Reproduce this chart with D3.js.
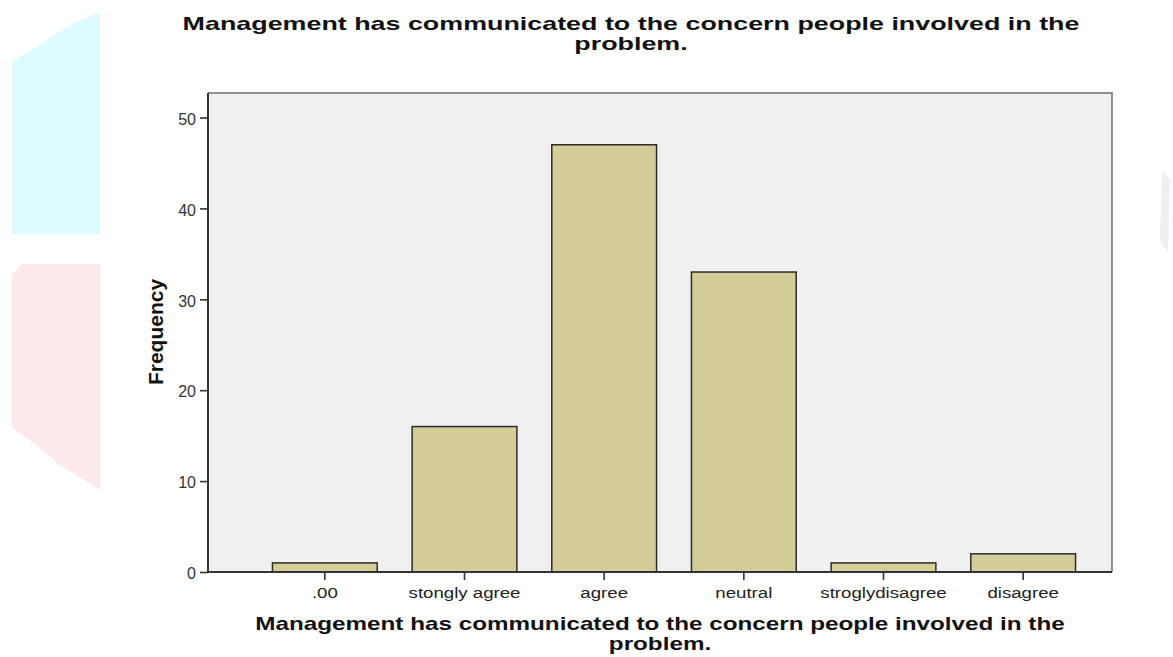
<!DOCTYPE html>
<html><head><meta charset="utf-8">
<script src="https://cdn.jsdelivr.net/npm/d3@7"></script>
<style>body{margin:0;background:#fff;}svg{display:block;}</style>
</head><body>
<svg id="c" width="1173" height="657"></svg>
<script>
const categories = [".00", "stongly agree", "agree", "neutral", "stroglydisagree", "disagree"];
const frequencies = [1, 16, 47, 33, 1, 2];
const yTicks = [0, 10, 20, 30, 40, 50];
const titleLines = ["Management has communicated to the concern people involved in the", "problem."];
const yLabel = "Frequency";

const FONT = "Liberation Sans, Arial, Helvetica, sans-serif";
const svg = d3.select("#c");
const plot = {left: 208, top: 93, right: 1112, bottom: 572};

// faint watermark decoration
svg.append("path").attr("d", "M12,62 L40,45 L70,25 L100,12 L100,234 L12,234 Z").attr("fill", "#ddfbfd");
svg.append("path").attr("d", "M12,275 L22,264 L100,264 L100,490 L60,465 L30,440 L12,428 Z").attr("fill", "#fde9e9");
svg.append("path").attr("d", "M1162,170 L1170,180 L1168,252 L1160,240 Z").attr("fill", "#efefef");

const x = d3.scaleBand().domain(categories).range([255, 1093]).paddingInner(0.25).paddingOuter(0.125);
const y = d3.scaleLinear().domain([0, 50]).range([plot.bottom, 117.5]);

svg.append("rect").attr("x", plot.left).attr("y", plot.top)
  .attr("width", plot.right - plot.left).attr("height", plot.bottom - plot.top)
  .attr("fill", "#f0f0f0");
svg.append("path").attr("d", `M${plot.left},${plot.top}H${plot.right}V${plot.bottom}`)
  .attr("fill", "none").attr("stroke", "#6e6e6e").attr("stroke-width", 1.5);

svg.append("g").selectAll("rect").data(categories).join("rect")
  .attr("x", d => x(d)).attr("width", x.bandwidth())
  .attr("y", (d, i) => y(frequencies[i]))
  .attr("height", (d, i) => y(0) - y(frequencies[i]))
  .attr("fill", "#d3ce97").attr("stroke", "#2b2b2b").attr("stroke-width", 1.5);

const yAxis = svg.append("g").attr("transform", `translate(${plot.left},0)`)
  .call(d3.axisLeft(y).tickValues(yTicks).tickSize(8).tickPadding(4));
yAxis.select(".domain").attr("d", `M0,${plot.top}V${plot.bottom}`).attr("stroke", "#333").attr("stroke-width", 2);
yAxis.selectAll(".tick line").attr("stroke", "#333").attr("stroke-width", 1.6);
yAxis.selectAll("text").attr("font-family", FONT).attr("font-size", 16).attr("fill", "#333").attr("dy", "0.42em");

const xAxis = svg.append("g").attr("transform", `translate(0,${plot.bottom})`)
  .call(d3.axisBottom(x).tickSize(8));
xAxis.select(".domain").attr("d", `M${plot.left},0H${plot.right}`).attr("stroke", "#333").attr("stroke-width", 2);
xAxis.selectAll(".tick line").attr("stroke", "#333").attr("stroke-width", 1.6);
const xt = xAxis.selectAll("text").attr("font-family", FONT).attr("font-size", 15).attr("fill", "#222")
  .attr("y", 0).attr("dy", 0);
const refNode = xt.filter(d => d === "stongly agree").node();
const xsx = refNode ? 112 / refNode.getComputedTextLength() : 1.2;
xt.attr("transform", `translate(0,26) scale(${xsx},1)`);

function title(cx, y0, target) {
  const g = svg.append("g");
  const t = g.append("text").attr("text-anchor", "middle")
    .attr("font-family", FONT).attr("font-weight", "bold")
    .attr("font-size", 18).attr("fill", "#111");
  const spans = titleLines.map((l, i) => t.append("tspan").attr("x", 0).attr("y", i * 20).text(l));
  const w = spans[0].node().getComputedTextLength();
  g.attr("transform", `translate(${cx},${y0}) scale(${target / w},1)`);
}
title(631, 30, 897);
title(660, 630, 810);

svg.append("text").attr("transform", "translate(163,332) rotate(-90)")
  .attr("text-anchor", "middle").attr("font-family", FONT)
  .attr("font-weight", "bold").attr("font-size", 21).attr("fill", "#111").text(yLabel);
</script>
</body></html>
